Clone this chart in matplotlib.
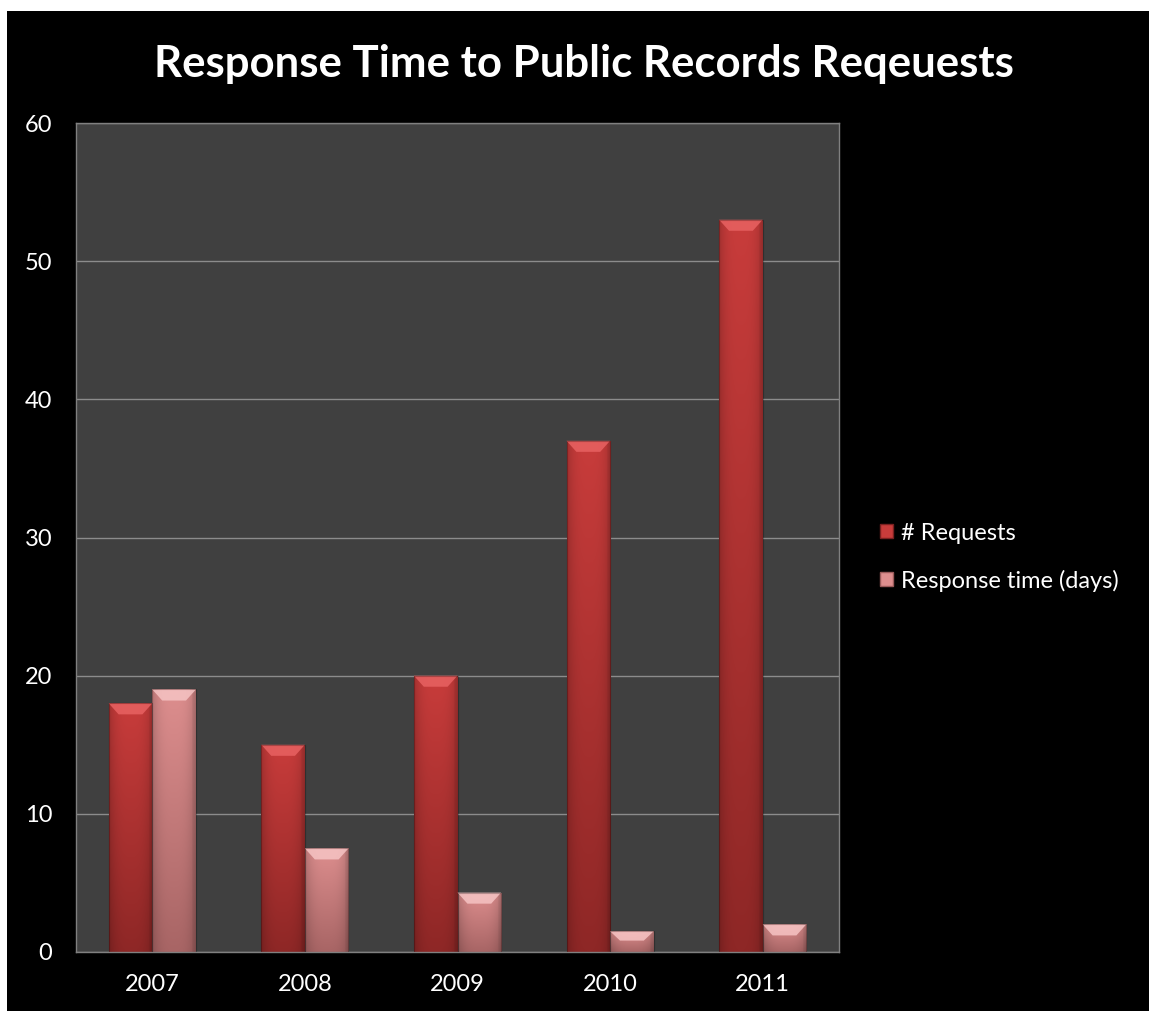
import matplotlib.pyplot as plt
import numpy as np
from matplotlib.colors import to_rgb
from matplotlib.patches import Patch, Polygon, Rectangle

# data
years = ['2007', '2008', '2009', '2010', '2011']
requests = [18, 15, 20, 37, 53]
response_days = [19, 7.5, 4.3, 1.5, 2]

plt.rcParams['font.family'] = ['Lato', 'DejaVu Sans']

RED_TOP, RED_BOT, RED_CAP = '#c83c3b', '#8e2726', '#e86262'
PINK_TOP, PINK_BOT, PINK_CAP = '#dd8e8e', '#a86565', '#f6c4c4'


def bevel_bar(ax, xc, w, h, top, bottom, cap):
    """Bar with a vertical gradient, darker edges and a lighter bevelled top."""
    x0, x1 = xc - w / 2, xc + w / 2
    clip = Rectangle((x0, 0), w, h, facecolor='none', edgecolor='none')
    ax.add_patch(clip)

    t = np.linspace(0, 1, 200)[:, None]
    s = np.linspace(-1, 1, 60)[None, :]
    base = (1 - t)[..., None] * np.array(to_rgb(bottom)) + t[..., None] * np.array(to_rgb(top))
    shade = 1 - 0.18 * np.abs(s) ** 3 - 0.06 * (s > 0.85)
    img = np.clip(base * shade[..., None], 0, 1)
    im = ax.imshow(img, extent=[x0, x1, 0, h], origin='lower',
                   aspect='auto', interpolation='bilinear', zorder=2)
    im.set_clip_path(clip)

    ch = min(0.8, h * 0.45)
    inset = 0.065
    ax.add_patch(Polygon([(x0, h), (x1, h), (x1 - inset, h - ch), (x0 + inset, h - ch)],
                         closed=True, facecolor=cap, edgecolor='none', alpha=0.85, zorder=3))
    ax.add_patch(Rectangle((x0, 0), w, h, facecolor='none',
                           edgecolor=(0, 0, 0, 0.25), lw=0.8, zorder=3))


fig = plt.figure(figsize=(11.49, 10.11), dpi=100, facecolor='white')
# black slide background, leaving a thin white strip on the left and top
bg = Rectangle((7 / 1149, 0), 1, 1 - 11 / 1011, transform=fig.transFigure,
               facecolor='black', edgecolor='none', zorder=-10)
fig.add_artist(bg)

ax = fig.add_axes([76 / 1149, 1 - 952 / 1011, (839 - 76) / 1149, (952 - 123) / 1011])
ax.set_facecolor('#404040')

x = np.arange(len(years))
w = 1 / 3.5
for i in range(len(years)):
    bevel_bar(ax, x[i] - w / 2, w, requests[i], RED_TOP, RED_BOT, RED_CAP)
    bevel_bar(ax, x[i] + w / 2, w, response_days[i], PINK_TOP, PINK_BOT, PINK_CAP)

ax.set_xlim(-0.5, len(years) - 0.5)
ax.set_ylim(0, 60)
ax.set_yticks(range(0, 61, 10))
ax.set_xticks(x)
ax.set_xticklabels(years)
ax.yaxis.grid(True, color='#8c8c8c', lw=1)
ax.set_axisbelow(True)
ax.tick_params(length=0, colors='white', labelsize=17)
ax.tick_params(axis='y', pad=17)
ax.tick_params(axis='x', pad=16)
for sp in ax.spines.values():
    sp.set_color('#808080')
    sp.set_linewidth(1)

fig.text(0.508, 0.937, 'Response Time to Public Records Reqeuests', color='white',
         fontsize=31.5, fontweight='bold', ha='center', va='center')

handles = [Patch(facecolor=RED_TOP, edgecolor='#7a2020'),
           Patch(facecolor=PINK_TOP, edgecolor='#9a5a5a')]
fig.legend(handles, ['# Requests', 'Response time (days)'], loc='center left',
           bbox_to_anchor=(0.747, 0.449), frameon=False, fontsize=17,
           labelcolor='white', handlelength=0.55, handleheight=0.55,
           handletextpad=0.35, labelspacing=1.1)

fig.savefig('out.png', dpi=100, facecolor=fig.get_facecolor())
